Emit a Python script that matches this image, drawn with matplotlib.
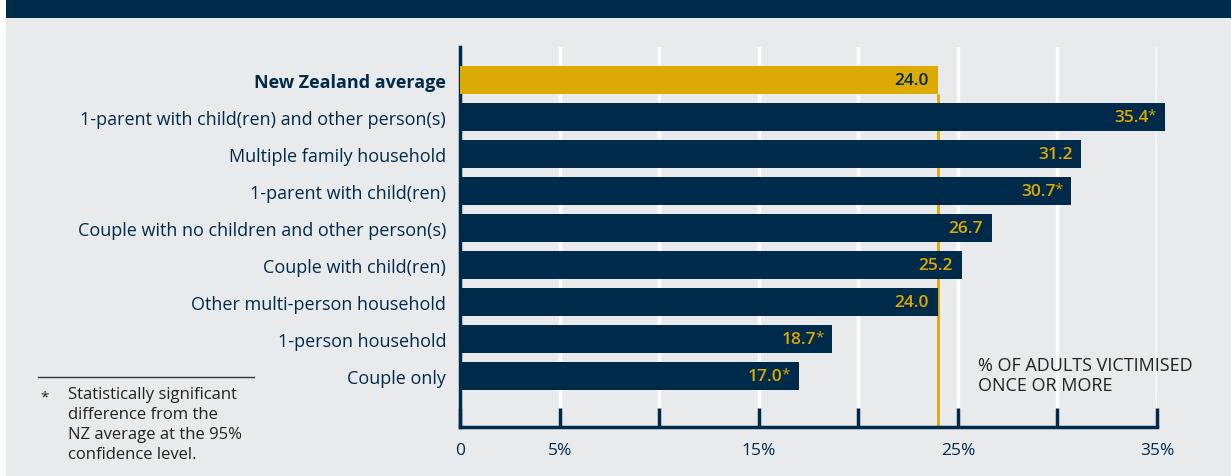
import matplotlib.pyplot as plt

plt.rcParams['font.family'] = ['Open Sans', 'DejaVu Sans']

NAVY = '#002a4a'
GOLD = '#dcaa00'
BG = '#e9eaec'

categories = [
    'New Zealand average',
    '1-parent with child(ren) and other person(s)',
    'Multiple family household',
    '1-parent with child(ren)',
    'Couple with no children and other person(s)',
    'Couple with child(ren)',
    'Other multi-person household',
    '1-person household',
    'Couple only',
]
values = [24.0, 35.4, 31.2, 30.7, 26.7, 25.2, 24.0, 18.7, 17.0]
significant = [False, True, False, True, False, False, False, True, True]
tick_pos = [0, 5, 10, 15, 20, 25, 30, 35]
tick_labels = ['0', '5%', '', '15%', '', '25%', '', '35%']
nz_avg = 24.0

fig = plt.figure(figsize=(12.31, 4.77), dpi=100)
fig.patch.set_facecolor('white')
# grey panel and top band
fig.patches.append(plt.Rectangle((6 / 1231, 0), 1, 1, transform=fig.transFigure,
                                 facecolor=BG, edgecolor='none', zorder=-10))
fig.patches.append(plt.Rectangle((6 / 1231, 1 - 19 / 477), 1, 19 / 477, transform=fig.transFigure,
                                 facecolor=NAVY, edgecolor='none', zorder=-9))

ax = fig.add_axes([460 / 1231, 49 / 477, 697 / 1231, 380 / 477])
ax.set_facecolor('none')

ypos = list(range(len(categories)))
colors = [GOLD] + [NAVY] * (len(categories) - 1)
bars = ax.barh(ypos, values, height=0.76, color=colors, zorder=3)
for b in bars:
    b.set_clip_on(False)

for i, (v, s) in enumerate(zip(values, significant)):
    tcol = NAVY if i == 0 else GOLD
    if s:
        ax.text(v - 0.45, i - 0.05, '*', ha='right', va='center', color=tcol,
                fontsize=11, zorder=5)
        ax.text(v - 0.8, i, f'{v:.1f}', ha='right', va='center', color=tcol,
                fontsize=12.5, fontweight='semibold', zorder=5)
    else:
        ax.text(v - 0.45, i, f'{v:.1f}', ha='right', va='center', color=tcol,
                fontsize=12.5, fontweight='semibold', zorder=5)

# NZ average reference line (behind the bars)
ax.plot([nz_avg, nz_avg], [0.38, 9.38], color=GOLD, lw=2, zorder=2, solid_capstyle='butt')

ax.set_xlim(0, 35)
ax.set_ylim(9.38, -0.89)
for x in tick_pos[1:]:
    ax.axvline(x, color='white', lw=2.5, zorder=1)

ax.set_yticks(ypos)
ax.set_yticklabels(categories, fontsize=13, color=NAVY)
ax.get_yticklabels()[0].set_fontweight('bold')
ax.tick_params(axis='y', length=0, pad=10)
ax.set_xticks(tick_pos)
ax.set_xticklabels(tick_labels, fontsize=12.5, color=NAVY)
ax.tick_params(axis='x', direction='in', length=14, width=2.5, color=NAVY, pad=11)

for sp in ['top', 'right']:
    ax.spines[sp].set_visible(False)
for sp in ['left', 'bottom']:
    ax.spines[sp].set_color(NAVY)
    ax.spines[sp].set_linewidth(2.5)

ax.text(26, 7.45, '% OF ADULTS VICTIMISED\nONCE OR MORE', ha='left', va='top',
        fontsize=13, color='#222222', linespacing=1.2)

# footnote
fig.add_artist(plt.Line2D([38 / 1231, 254 / 1231], [1 - 378 / 477] * 2,
                          transform=fig.transFigure, color='#333333', lw=1))
fig.text(40 / 1231, 1 - 390 / 477, '*', fontsize=11, color='#222222', va='top')
fig.text(68 / 1231, 1 - 387 / 477,
         'Statistically significant\ndifference from the\nNZ average at the 95%\nconfidence level.',
         fontsize=12, color='#222222', va='top', linespacing=1.33)

fig.savefig('out.png', dpi=100, facecolor=fig.get_facecolor())
